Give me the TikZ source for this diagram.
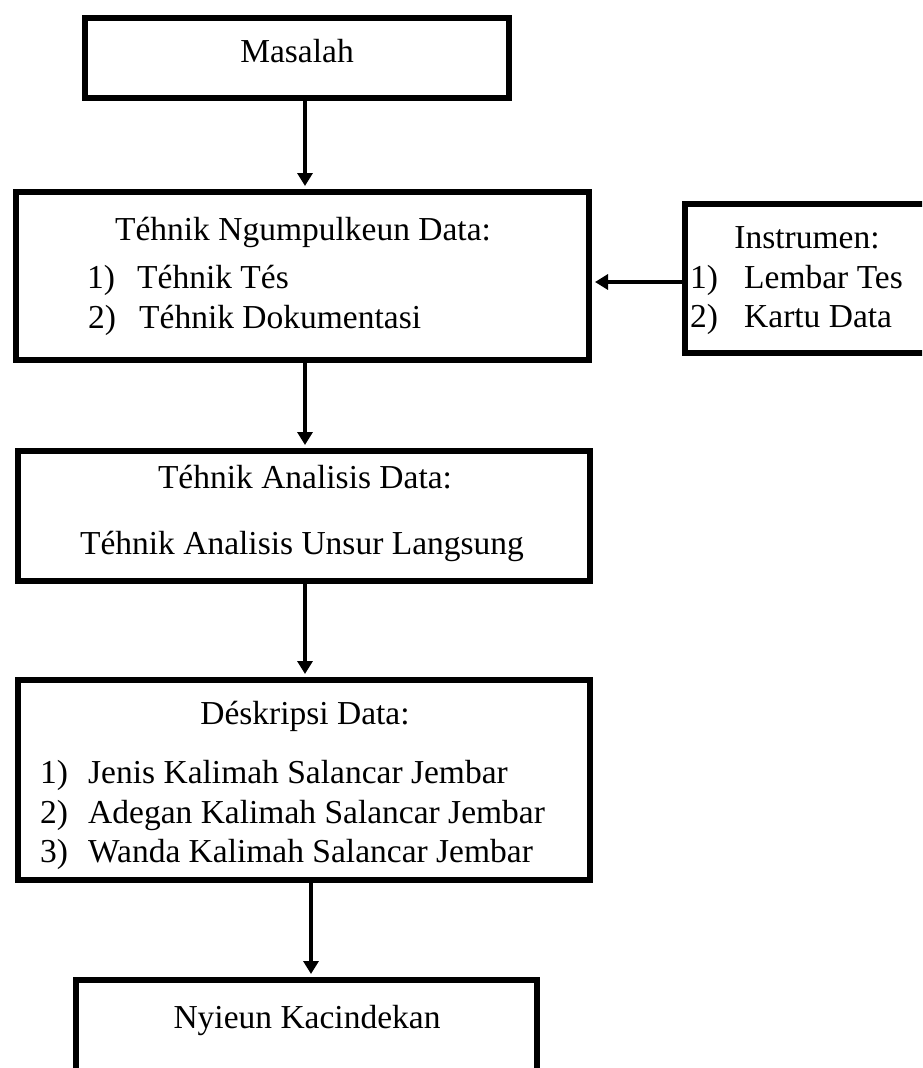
\documentclass[tikz,border=0pt]{standalone}
\usepackage{fontspec}
\setmainfont{Liberation Serif}
\usetikzlibrary{arrows.meta}
\begin{document}
\begin{tikzpicture}[x=1pt,y=-1pt,
  box/.style={draw,line width=6pt,rectangle,inner sep=0pt},
  txt/.style={inner sep=0pt,font=\fontsize{33.5}{40}\selectfont},
  arr/.style={line width=4.5pt,-{Triangle[width=15pt,length=13pt]},shorten >=3pt}]
\useasboundingbox (0,0) rectangle (922,1068);
\clip (0,0) rectangle (922,1068);
% boxes
\node[box,minimum width=424pt,minimum height=80pt] (mas) at (297,58) {};
\node[box,minimum width=573pt,minimum height=168pt] (ng) at (302.5,276) {};
\node[box,minimum width=255pt,minimum height=149pt] (ins) at (812.5,278.5) {};
\node[box,minimum width=572pt,minimum height=130pt] (an) at (304,516) {};
\node[box,minimum width=572pt,minimum height=200pt] (de) at (304,780) {};
\node[box,minimum width=461pt,minimum height=110pt] (ny) at (306.5,1035) {};
% texts
\node[txt,anchor=base] (masT) at (297,62) {Masalah};
\node[txt,anchor=base] (ngT) at (303,240) {Téhnik Ngumpulkeun Data:};
\node[txt,anchor=base west] (ng1n) at (87,288) {1)};
\node[txt,anchor=base west] (ng1) at (137,288) {Téhnik Tés};
\node[txt,anchor=base west] (ng2n) at (88,328) {2)};
\node[txt,anchor=base west] (ng2) at (139,328) {Téhnik Dokumentasi};
\node[txt,anchor=base] (insT) at (807,248) {Instrumen:};
\node[txt,anchor=base west] (ins1n) at (690,288) {1)};
\node[txt,anchor=base west] (ins1) at (744,288) {Lembar Tes};
\node[txt,anchor=base west] (ins2n) at (690,327) {2)};
\node[txt,anchor=base west] (ins2) at (744,327) {Kartu Data};
\node[txt,anchor=base] (anT) at (305,488) {Téhnik Analisis Data:};
\node[txt,anchor=base] (an2) at (302,554) {Téhnik Analisis Unsur Langsung};
\node[txt,anchor=base] (deT) at (305,724) {Déskripsi Data:};
\node[txt,anchor=base west] (de1n) at (40,783) {1)};
\node[txt,anchor=base west] (de1) at (88,783) {Jenis Kalimah Salancar Jembar};
\node[txt,anchor=base west] (de2n) at (40,823) {2)};
\node[txt,anchor=base west] (de2) at (88,823) {Adegan Kalimah Salancar Jembar};
\node[txt,anchor=base west] (de3n) at (40,862) {3)};
\node[txt,anchor=base west] (de3) at (88,862) {Wanda Kalimah Salancar Jembar};
\node[txt,anchor=base] (nyT) at (307,1028) {Nyieun Kacindekan};
% connectors
\coordinate (ax) at (305,0);
\coordinate (bx) at (311,0);
\coordinate (hy) at (0,282);
\draw[arr] (mas.south -| ax) -- (ng.north -| ax);
\draw[arr] (ng.south -| ax) -- (an.north -| ax);
\draw[arr] (an.south -| ax) -- (de.north -| ax);
\draw[arr] (de.south -| bx) -- (ny.north -| bx);
\draw[arr] (ins.west |- hy) -- (ng.east |- hy);
\end{tikzpicture}
\end{document}
